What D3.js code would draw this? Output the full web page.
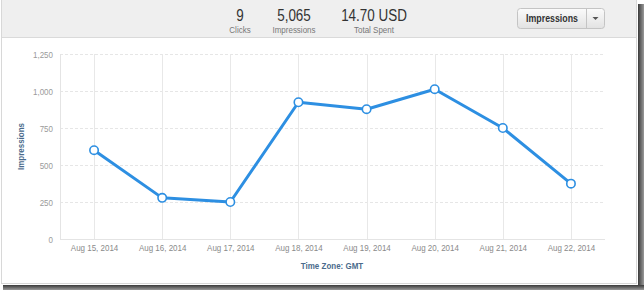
<!DOCTYPE html>
<html><head><meta charset="utf-8">
<script src="https://cdn.jsdelivr.net/npm/d3@7"></script>
<style>
html,body{margin:0;padding:0;background:#fff;}
svg{display:block;font-family:"Liberation Sans",Arial,sans-serif;}
</style></head>
<body>
<svg id="c" width="644" height="290"></svg>
<script>
const dates = ["Aug 15, 2014","Aug 16, 2014","Aug 17, 2014","Aug 18, 2014","Aug 19, 2014","Aug 20, 2014","Aug 21, 2014","Aug 22, 2014"];
const impressions = [600, 278, 250, 924, 877, 1012, 750, 374];
const yTicks = [0, 250, 500, 750, 1000, 1250];
const summaryValues = ["9", "5,065", "14.70 USD"];
const summaryLabels = ["Clicks", "Impressions", "Total Spent"];

const svg = d3.select("#c");
const defs = svg.append("defs");
const gR = defs.append("linearGradient").attr("id","shR").attr("x1",0).attr("x2",1).attr("y1",0).attr("y2",0);
gR.append("stop").attr("offset","0").attr("stop-color","#3a3a3a");
gR.append("stop").attr("offset","1").attr("stop-color","#9a9a9a");
const gB = defs.append("linearGradient").attr("id","shB").attr("x1",0).attr("x2",0).attr("y1",0).attr("y2",1);
gB.append("stop").attr("offset","0").attr("stop-color","#3a3a3a");
gB.append("stop").attr("offset","1").attr("stop-color","#9a9a9a");
const gBtn = defs.append("linearGradient").attr("id","btn").attr("x1",0).attr("x2",0).attr("y1",0).attr("y2",1);
gBtn.append("stop").attr("offset","0").attr("stop-color","#fbfbfb");
gBtn.append("stop").attr("offset","1").attr("stop-color","#e2e2e2");

// shadows
svg.append("rect").attr("x",638).attr("y",4).attr("width",6).attr("height",286).attr("fill","url(#shR)");
svg.append("rect").attr("x",3).attr("y",285).attr("width",641).attr("height",5).attr("fill","url(#shB)");

// panel
svg.append("rect").attr("x",1.5).attr("y",0.5).attr("width",635).attr("height",283).attr("fill","#fff").attr("stroke","#d8d8d8");
// header
svg.append("rect").attr("x",2).attr("y",0).attr("width",634).attr("height",37).attr("fill","#efefef");
svg.append("line").attr("x1",2).attr("x2",636).attr("y1",37.5).attr("y2",37.5).attr("stroke","#dadada");

const cond = 0.84;
function condense(sel){
  sel.each(function(){
    const w = this.getComputedTextLength();
    d3.select(this).attr("textLength", w*cond).attr("lengthAdjust","spacingAndGlyphs");
  });
}

const sumX = [240, 294, 374];
const sumG = svg.append("g");
sumG.selectAll("text.v").data(summaryValues).join("text").attr("class","v")
  .attr("x",(d,i)=>sumX[i]).attr("y",20.5).attr("text-anchor","middle")
  .attr("font-size",16).attr("fill","#333").text(d=>d).call(condense);
sumG.selectAll("text.l").data(summaryLabels).join("text").attr("class","l")
  .attr("x",(d,i)=>sumX[i]).attr("y",32.5).attr("text-anchor","middle")
  .attr("font-size",9.5).attr("fill","#777").text(d=>d).call(condense);

// button
const bg = svg.append("g");
bg.append("rect").attr("x",517.5).attr("y",8.5).attr("width",87).attr("height",20).attr("rx",3)
  .attr("fill","url(#btn)").attr("stroke","#c4c4c4");
bg.append("line").attr("x1",586.5).attr("x2",586.5).attr("y1",9).attr("y2",28).attr("stroke","#c4c4c4");
bg.append("text").attr("x",552).attr("y",22).attr("text-anchor","middle").attr("font-size",10.5)
  .attr("font-weight","bold").attr("fill","#333").text("Impressions").call(condense);
bg.append("path").attr("d","M592.5,17 L598.5,17 L595.5,20 Z").attr("fill","#555");

// chart
const x = d3.scalePoint().domain(dates).range([60,605]).padding(0.5);
const y = d3.scaleLinear().domain([0,1250]).range([239,54]);

const grid = svg.append("g");
grid.selectAll("line.h").data(yTicks.filter(d=>d>0)).join("line").attr("class","h")
  .attr("x1",60).attr("x2",605).attr("y1",d=>Math.round(y(d))+0.5).attr("y2",d=>Math.round(y(d))+0.5)
  .attr("stroke","#e6e6e6").attr("stroke-dasharray","3,2");
grid.selectAll("line.v").data(dates).join("line").attr("class","v")
  .attr("x1",d=>Math.round(x(d))+0.5).attr("x2",d=>Math.round(x(d))+0.5).attr("y1",54).attr("y2",239)
  .attr("stroke","#e8e8e8");
grid.append("line").attr("x1",60.5).attr("x2",60.5).attr("y1",54).attr("y2",239).attr("stroke","#e4e4e4");
grid.append("line").attr("x1",60).attr("x2",605).attr("y1",239.5).attr("y2",239.5).attr("stroke","#e4e4e4");

const yAxis = svg.append("g").attr("transform","translate(53,0)")
  .call(d3.axisLeft(y).tickValues(yTicks).tickSize(0).tickPadding(0).tickFormat(d3.format(",")));
yAxis.select(".domain").remove();
yAxis.selectAll("text").attr("font-size",9.5).attr("fill","#9a9a9a").attr("font-family","Liberation Sans, Arial, sans-serif").call(condense);

const xAxis = svg.append("g").attr("transform","translate(0,244.5)")
  .call(d3.axisBottom(x).tickSize(0).tickPadding(0));
xAxis.select(".domain").remove();
xAxis.selectAll("text").attr("font-size",9.5).attr("fill","#8a8a8a").attr("dy","0.71em").attr("font-family","Liberation Sans, Arial, sans-serif").call(condense);

svg.append("text").attr("x",332).attr("y",268.5).attr("text-anchor","middle").attr("font-size",9.5)
  .attr("font-weight","bold").attr("fill","#4a6b8c").text("Time Zone: GMT").call(condense);
svg.append("text").attr("transform","translate(24,146.5) rotate(-90)").attr("text-anchor","middle")
  .attr("font-size",9.5).attr("font-weight","bold").attr("fill","#4a6b8c").text("Impressions").call(condense);

const line = d3.line().x((d,i)=>x(dates[i])).y(d=>y(d));
svg.append("path").datum(impressions).attr("d",line).attr("fill","none")
  .attr("stroke","#2d8fe2").attr("stroke-width",3).attr("stroke-linejoin","round");
svg.selectAll("circle.p").data(impressions).join("circle").attr("class","p")
  .attr("cx",(d,i)=>x(dates[i])).attr("cy",d=>y(d)).attr("r",4.2)
  .attr("fill","#fff").attr("stroke","#2d8fe2").attr("stroke-width",1.6);
</script>
</body></html>
